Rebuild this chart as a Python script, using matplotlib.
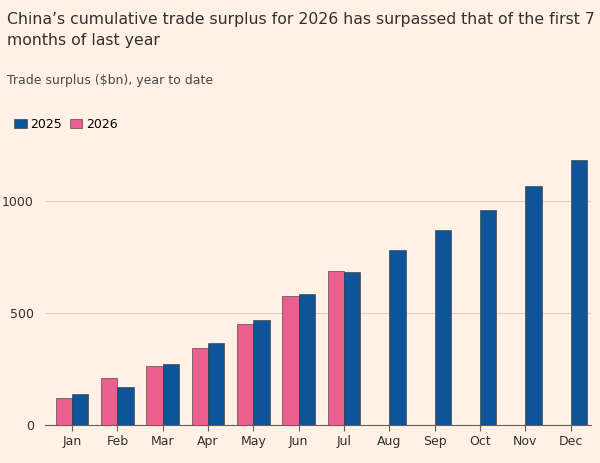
import matplotlib.pyplot as plt
import numpy as np

months = ['Jan', 'Feb', 'Mar', 'Apr', 'May', 'Jun', 'Jul', 'Aug', 'Sep', 'Oct', 'Nov', 'Dec']
y2025 = [138, 170, 272, 366, 469, 585, 683, 781, 871, 960, 1067, 1183]
y2026 = [120, 210, 263, 344, 451, 576, 688]

bg = '#FFF1E5'
blue = '#0F5499'
pink = '#EB5E8D'

fig = plt.figure(figsize=(6, 4.63), dpi=100, facecolor=bg)
ax = fig.add_axes([0.075, 0.082, 0.91, 0.581], facecolor=bg)

x = np.arange(len(months))
w = 0.36
ax.bar(x[:len(y2026)] - w / 2, y2026, w, color=pink, edgecolor='#33302E', linewidth=0.4, zorder=3, label='2026')
ax.bar(x + w / 2, y2025, w, color=blue, edgecolor='#33302E', linewidth=0.4, zorder=3, label='2025')

ax.set_xlim(-0.6, 11.45)
ax.set_ylim(0, 1200)
ax.set_yticks([0, 500, 1000])
ax.set_xticks(x)
ax.set_xticklabels(months)
ax.grid(axis='y', color='#D9CEC5', linewidth=0.8, zorder=0)
for s in ['top', 'right', 'left']:
    ax.spines[s].set_visible(False)
ax.spines['bottom'].set_color('#66605C')
ax.tick_params(axis='y', length=0, labelsize=9, colors='#33302E', pad=8)
ax.tick_params(axis='x', length=4, labelsize=9, colors='#33302E', color='#66605C')

fig.text(0.012, 0.975, "China\u2019s cumulative trade surplus for 2026 has surpassed that of the first 7\nmonths of last year",
         fontsize=11.3, color='#33302E', va='top', linespacing=1.55)
fig.text(0.012, 0.84, 'Trade surplus ($bn), year to date', fontsize=9, color='#4D4845', va='top')

h, l = ax.get_legend_handles_labels()
fig.legend(h[::-1], l[::-1], loc='upper left', bbox_to_anchor=(0.005, 0.77), ncol=2, frameon=False,
           fontsize=9, handlelength=1.0, handleheight=0.8, columnspacing=0.6, handletextpad=0.3)

fig.savefig('out.png', dpi=100, facecolor=bg)
